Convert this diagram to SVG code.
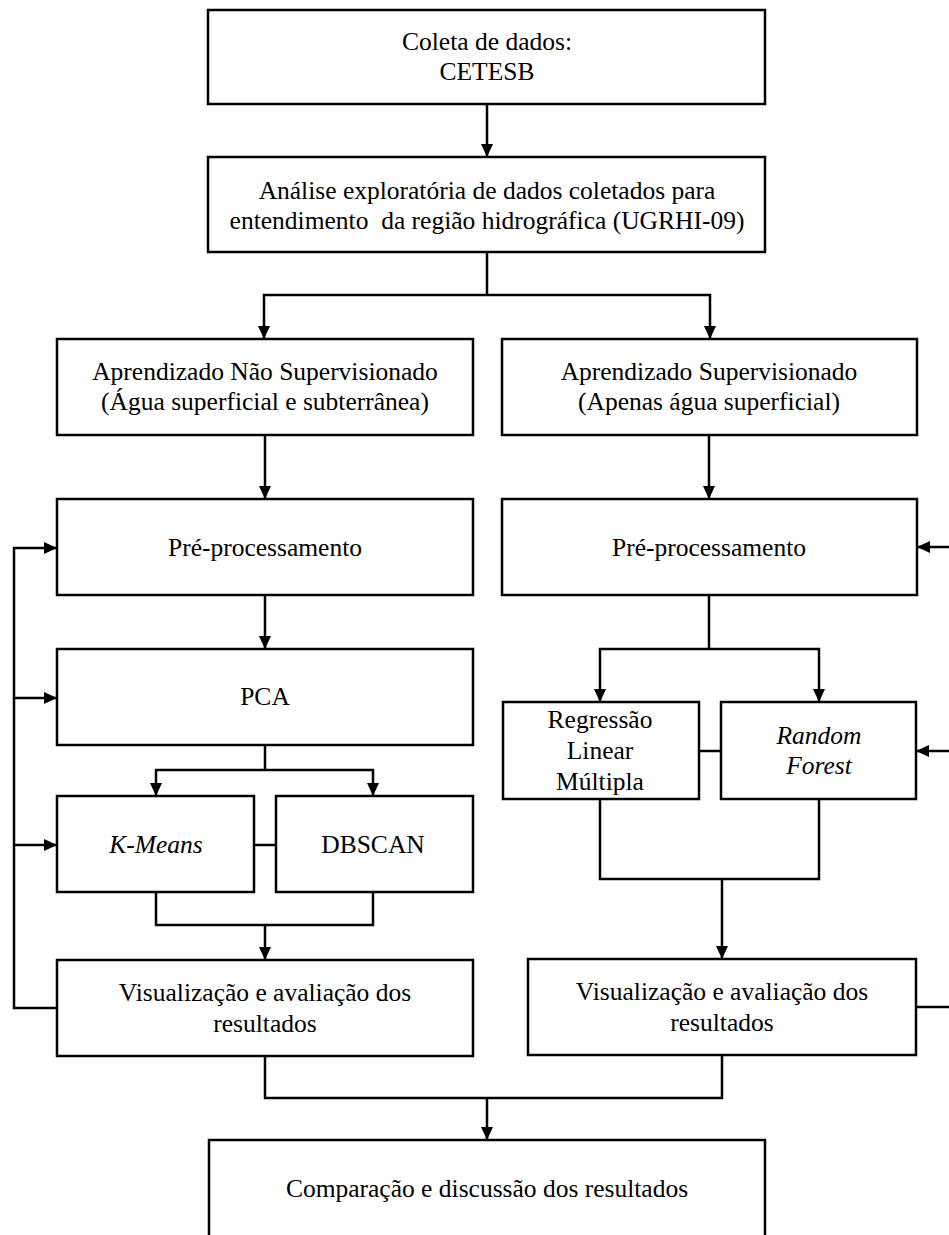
<svg xmlns="http://www.w3.org/2000/svg" width="949" height="1235" viewBox="0 0 949 1235">
<style>
.box{fill:#fff;stroke:#000;stroke-width:2.5}
.t{font-family:'Liberation Serif','DejaVu Serif',serif;font-size:25.5px;fill:#000;text-anchor:middle;white-space:pre}
.i{font-style:italic}
.c{fill:none;stroke:#000;stroke-width:2.5}
</style>
<defs>
<marker id="ah" markerUnits="userSpaceOnUse" markerWidth="14" markerHeight="14" refX="13" refY="7" orient="auto">
<path d="M0,1 L13,7 L0,13 z" fill="#000"/>
</marker>
</defs>
<g id="connectors">
<path class="c" d="M487,104 V157" marker-end="url(#ah)"/>
<path class="c" d="M487,252 V295"/>
<path class="c" d="M487,295 H264 V339" marker-end="url(#ah)"/>
<path class="c" d="M487,295 H710 V339" marker-end="url(#ah)"/>
<path class="c" d="M265,435 V499" marker-end="url(#ah)"/>
<path class="c" d="M709,435 V499" marker-end="url(#ah)"/>
<path class="c" d="M265,595 V649" marker-end="url(#ah)"/>
<path class="c" d="M709,595 V649"/>
<path class="c" d="M709,649 H600 V702" marker-end="url(#ah)"/>
<path class="c" d="M709,649 H819 V702" marker-end="url(#ah)"/>
<path class="c" d="M265,745 V770"/>
<path class="c" d="M265,770 H156 V796" marker-end="url(#ah)"/>
<path class="c" d="M265,770 H373 V796" marker-end="url(#ah)"/>
<path class="c" d="M254,845 H276"/>
<path class="c" d="M699,751 H721"/>
<path class="c" d="M156,892 V925 H373 V892"/>
<path class="c" d="M265,925 V960" marker-end="url(#ah)"/>
<path class="c" d="M600,799 V879 H819 V799"/>
<path class="c" d="M722,879 V959" marker-end="url(#ah)"/>
<path class="c" d="M57,1008 H14 V548 H57" marker-end="url(#ah)"/>
<path class="c" d="M14,698 H57" marker-end="url(#ah)"/>
<path class="c" d="M14,845 H57" marker-end="url(#ah)"/>
<path class="c" d="M916,1007 H960 V547 H917" marker-end="url(#ah)"/>
<path class="c" d="M960,751 H916" marker-end="url(#ah)"/>
<path class="c" d="M265,1056 V1098 H722 V1055"/>
<path class="c" d="M487,1098 V1140" marker-end="url(#ah)"/>
</g>
<g id="coleta">
<rect class="box" x="208" y="10" width="557" height="94"/>
<text class="t" x="487" y="50">Coleta de dados:</text>
<text class="t" x="487" y="80">CETESB</text>
</g>
<g id="analise">
<rect class="box" x="208" y="157" width="557" height="95"/>
<text class="t" x="487" y="199">Análise exploratória de dados coletados para</text>
<text class="t" x="487" y="229">entendimento  da região hidrográfica (UGRHI-09)</text>
</g>
<g id="nao-supervisionado">
<rect class="box" x="57" y="339" width="416" height="96"/>
<text class="t" x="265" y="380">Aprendizado Não Supervisionado</text>
<text class="t" x="265" y="410">(Água superficial e subterrânea)</text>
</g>
<g id="supervisionado">
<rect class="box" x="502" y="339" width="415" height="96"/>
<text class="t" x="709" y="380">Aprendizado Supervisionado</text>
<text class="t" x="709" y="410">(Apenas água superficial)</text>
</g>
<g id="preproc-left">
<rect class="box" x="57" y="499" width="416" height="96"/>
<text class="t" x="265" y="556">Pré-processamento</text>
</g>
<g id="preproc-right">
<rect class="box" x="502" y="499" width="415" height="96"/>
<text class="t" x="709" y="556">Pré-processamento</text>
</g>
<g id="pca">
<rect class="box" x="57" y="649" width="416" height="96"/>
<text class="t" x="265" y="705">PCA</text>
</g>
<g id="kmeans">
<rect class="box" x="57" y="796" width="197" height="96"/>
<text class="t i" x="156" y="853">K-Means</text>
</g>
<g id="dbscan">
<rect class="box" x="276" y="796" width="197" height="96"/>
<text class="t" x="373" y="853">DBSCAN</text>
</g>
<g id="regressao">
<rect class="box" x="503" y="702" width="196" height="97"/>
<text class="t" x="600" y="728">Regressão</text>
<text class="t" x="600" y="759">Linear</text>
<text class="t" x="600" y="790">Múltipla</text>
</g>
<g id="random-forest">
<rect class="box" x="721" y="702" width="195" height="97"/>
<text class="t i" x="819" y="744">Random</text>
<text class="t i" x="819" y="774">Forest</text>
</g>
<g id="vis-left">
<rect class="box" x="57" y="960" width="416" height="96"/>
<text class="t" x="265" y="1001">Visualização e avaliação dos</text>
<text class="t" x="265" y="1032">resultados</text>
</g>
<g id="vis-right">
<rect class="box" x="528" y="959" width="388" height="96"/>
<text class="t" x="722" y="1000">Visualização e avaliação dos</text>
<text class="t" x="722" y="1031">resultados</text>
</g>
<g id="comparacao">
<rect class="box" x="209" y="1140" width="556" height="110"/>
<text class="t" x="487" y="1197">Comparação e discussão dos resultados</text>
</g>
</svg>
